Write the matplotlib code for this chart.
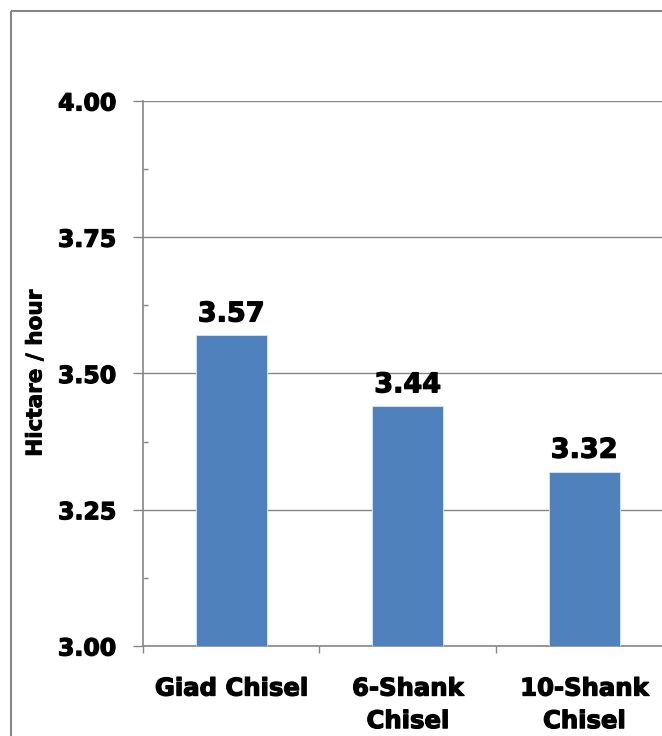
import matplotlib
matplotlib.use('Agg')
import matplotlib.pyplot as plt
import matplotlib.patheffects as pe
from matplotlib.lines import Line2D
import numpy as np

machines = ['Giad Chisel', '6-Shank\nChisel', '10-Shank\nChisel']
rates = [3.57, 3.44, 3.32]
y_ticks = [3.00, 3.25, 3.50, 3.75, 4.00]

bar_color = '#4F81BD'
grey = '#868686'
heavy = [pe.withStroke(linewidth=0.9, foreground='black')]

plt.rcParams['font.family'] = ['DejaVu Sans']
plt.rcParams['font.weight'] = 'bold'

fig = plt.figure(figsize=(6.62, 7.36), dpi=100)
ax = fig.add_axes([0.2160, 0.1223, 0.7998, 0.7405])

x = np.arange(len(machines))
bars = ax.bar(x, rates, width=0.4, color=bar_color, edgecolor='#dce6f2', linewidth=0.6, zorder=3)

for i in range(len(rates)):
    t = ax.annotate('%.2f' % rates[i], (x[i], rates[i]), xytext=(0, 10), textcoords='offset points',
                    ha='center', va='baseline', fontsize=19.5, fontweight='bold', color='black')
    t.set_path_effects(heavy)

ax.set_xlim(-0.5, 2.5)
ax.set_ylim(3.0, 4.0)
ax.set_yticks(y_ticks)
ax.set_yticklabels(['%.2f' % v for v in y_ticks])
ax.set_yticks(np.arange(3.125, 4.0, 0.25), minor=True)
ax.yaxis.grid(True, which='major', color=grey, linewidth=1.0, zorder=0)
ax.set_axisbelow(True)

ax.set_xticks([-0.5, 0.5, 1.5, 2.5])
ax.set_xticklabels([])
ax.set_xticks(x, minor=True)
ax.set_xticklabels(machines, minor=True)

ax.tick_params(axis='y', which='major', direction='out', length=7.2, width=1, color=grey,
               labelsize=17, pad=12)
ax.tick_params(axis='y', which='minor', direction='in', length=3.6, width=1, color=grey)
ax.tick_params(axis='x', which='major', direction='out', length=5, width=1, color=grey)
ax.tick_params(axis='x', which='minor', length=0, labelsize=17.5, pad=22)
for lab in ax.get_xticklabels(minor=True):
    lab.set_linespacing(1.45)
for lab in ax.get_yticklabels() + ax.get_xticklabels(minor=True):
    lab.set_fontweight('bold')
    lab.set_path_effects(heavy)

ax.set_ylabel('Hictare / hour', fontsize=15.5, fontweight='bold', labelpad=9,
              path_effects=[pe.withStroke(linewidth=0.6, foreground='black')])

for s in ['top', 'right']:
    ax.spines[s].set_visible(False)
ax.spines['left'].set_color(grey)
ax.spines['bottom'].set_color(grey)
ax.spines['left'].set_linewidth(1.2)
ax.spines['bottom'].set_linewidth(1.2)

# outer chart frame, only top and left edges are inside the picture
fx = 10.5 / 662
fy = 1 - 10.5 / 736
fig.add_artist(Line2D([fx, 1.05], [fy, fy], transform=fig.transFigure, color=grey,
                      linewidth=1.5, solid_capstyle='butt'))
fig.add_artist(Line2D([fx, fx], [-0.05, fy], transform=fig.transFigure, color=grey,
                      linewidth=1.5, solid_capstyle='butt'))

fig.savefig('out.png', dpi=100)
